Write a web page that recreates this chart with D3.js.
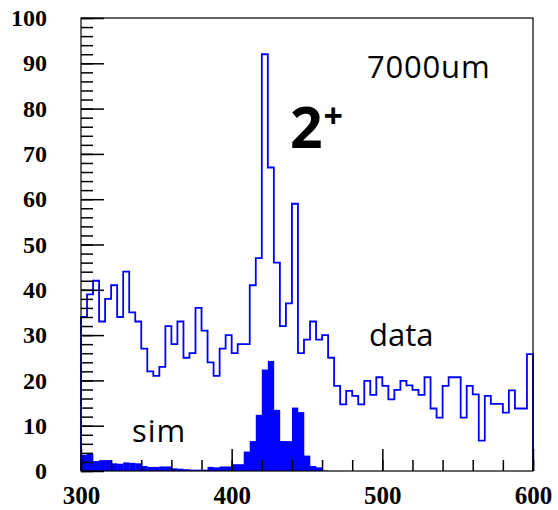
<!DOCTYPE html>
<html>
<head>
<meta charset="utf-8">
<script src="https://cdn.jsdelivr.net/npm/d3@7"></script>
<style>
  html, body { margin: 0; padding: 0; background: #fff; }
  svg { display: block; }
</style>
</head>
<body>
<svg id="chart" width="558" height="510"></svg>
<script>
// ---- data ----
const binStart = 300;
const binWidth = 4;
const dataCounts = [
  34, 39, 42, 33, 38, 41, 34, 44, 35, 33,
  27, 22, 21, 23, 32, 28, 33, 25, 26, 36,
  31, 24, 21, 27, 30, 26, 28, 28, 41, 47,
  92, 67, 46, 32, 37, 59, 26, 29, 33, 29,
  30, 25, 18.8, 14.7, 17.7, 16.6, 14.7, 19.9, 16.8, 20.7,
  18.8, 15.8, 17.9, 19.9, 18.9, 17.9, 16.8, 20.7, 13.8, 11.8,
  18.8, 20.7, 20.7, 11.8, 18.8, 16.9, 6.7, 16.6, 14.8, 14.8,
  12.9, 17.8, 13.8, 13.8, 25.8
];
const simCounts = [
  3.6, 3.8, 2.2, 2.4, 2.4, 1.7, 1.6, 1.9, 1.8, 1.7,
  1.1, 0.9, 0.9, 1.0, 1.0, 0.6, 0.5, 0.4, 0.3, 0.3,
  0.3, 0.9, 0.8, 1.0, 1.0, 1.5, 1.5, 4.3, 6.6, 12.4,
  22.4, 24.3, 13.5, 6.6, 6.6, 14.0, 13.0, 3.4, 1.1, 0.8,
  0.1, 0, 0, 0, 0, 0, 0, 0, 0, 0,
  0, 0, 0, 0, 0, 0, 0, 0, 0, 0,
  0, 0, 0, 0, 0, 0, 0, 0, 0, 0,
  0, 0, 0, 0, 0
];
const xTickLabels = [300, 400, 500, 600];
const yTickLabels = [0, 10, 20, 30, 40, 50, 60, 70, 80, 90, 100];
const xDomain = [300, 600];
const yDomain = [0, 100];

// ---- layout ----
const svg = d3.select("#chart");
const mLeft = 81, mRight = 533, mTop = 18, mBottom = 471;
const x = d3.scaleLinear().domain(xDomain).range([mLeft, mRight]);
const y = d3.scaleLinear().domain(yDomain).range([mBottom, mTop]);
const blue = "#0000ff";

// sim filled histogram
svg.append("g").selectAll("rect")
  .data(simCounts.map((v, i) => ({x0: binStart + i * binWidth, x1: binStart + (i + 1) * binWidth, v})))
  .join("rect")
  .attr("x", d => x(d.x0))
  .attr("width", d => x(d.x1) - x(d.x0) + 0.3)
  .attr("y", d => y(d.v))
  .attr("height", d => y(0) - y(d.v))
  .attr("fill", blue);

// data step histogram
const pts = [[binStart, 0]];
dataCounts.forEach((v, i) => {
  pts.push([binStart + i * binWidth, v]);
  pts.push([binStart + (i + 1) * binWidth, v]);
});
pts.push([binStart + dataCounts.length * binWidth, 0]);
svg.append("path")
  .attr("d", d3.line().x(d => x(d[0])).y(d => y(d[1]))(pts))
  .attr("fill", "none")
  .attr("stroke", blue)
  .attr("stroke-width", 1.8);

// frame
svg.append("rect")
  .attr("x", mLeft).attr("y", mTop)
  .attr("width", mRight - mLeft).attr("height", mBottom - mTop)
  .attr("fill", "none").attr("stroke", "#000").attr("stroke-width", 1.2);

// y axis minor/major
const yMinor = svg.append("g").attr("transform", `translate(${mLeft},0)`)
  .call(d3.axisLeft(y).tickValues(d3.range(0, 101, 2)).tickSize(-12).tickFormat(""));
const yMajor = svg.append("g").attr("transform", `translate(${mLeft},0)`)
  .call(d3.axisLeft(y).tickValues(yTickLabels).tickSize(-23).tickPadding(34).tickFormat(d3.format("d")));
// x axis minor/major
const xMinor = svg.append("g").attr("transform", `translate(0,${mBottom})`)
  .call(d3.axisBottom(x).tickValues(d3.range(300, 601, 20)).tickSize(-11).tickFormat(""));
const xMajor = svg.append("g").attr("transform", `translate(0,${mBottom})`)
  .call(d3.axisBottom(x).tickValues(xTickLabels).tickSize(-22).tickPadding(0).tickFormat(d3.format("d")));

[yMinor, yMajor, xMinor, xMajor].forEach(g => {
  g.select(".domain").remove();
  g.selectAll(".tick line").attr("stroke", "#000").attr("stroke-width", 1.5);
});
yMajor.selectAll("text")
  .attr("font-family", "'Liberation Serif', 'Times New Roman', serif")
  .attr("font-weight", "bold").attr("font-size", 24).attr("fill", "#000");
xMajor.selectAll("text")
  .attr("font-family", "'Liberation Serif', 'Times New Roman', serif")
  .attr("font-weight", "bold").attr("font-size", 25).attr("fill", "#000")
  .attr("y", 33).attr("dy", null);

// annotations
const sans = "'Open Sans', 'Lato', sans-serif";
svg.append("text").attr("x", 367).attr("y", 78)
  .attr("font-family", sans).attr("font-size", 31).attr("letter-spacing", 0.8)
  .attr("fill", "#000").text("7000um");
const t2 = svg.append("text").attr("x", 290).attr("y", 148)
  .attr("font-family", sans).attr("font-weight", "bold").attr("font-size", 57).attr("fill", "#000");
t2.append("tspan").text("2");
t2.append("tspan").attr("font-size", 34).attr("dy", -20).attr("dx", 1).text("+");
svg.append("text").attr("x", 369).attr("y", 346)
  .attr("font-family", sans).attr("font-size", 31).attr("fill", "#000").text("data");
svg.append("text").attr("x", 132).attr("y", 442)
  .attr("font-family", sans).attr("font-size", 31).attr("letter-spacing", 1)
  .attr("fill", "#000").text("sim");
</script>
</body>
</html>
